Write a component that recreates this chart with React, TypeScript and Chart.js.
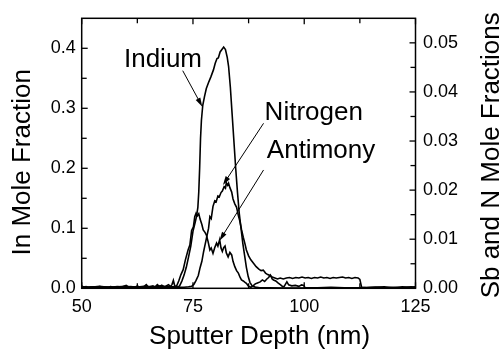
import React, { useEffect, useRef } from "react";
import { Chart, registerables } from "chart.js";

Chart.register(...registerables);

// ---------- data ----------
const indiumDepth = [
  50, 50.5, 51, 51.5, 52, 53, 53.5, 54, 55, 56, 56.5, 57, 58, 59, 60, 60.5, 61, 62, 62.5, 63, 64, 64.5, 65, 66, 66.5, 67,
  67.5, 68, 68.5, 69, 69.5, 70, 71, 71.5, 72, 72.5, 73, 73.5, 74, 74.5, 75, 75.5, 75.8, 76.1, 76.3, 76.5, 76.7, 76.9,
  77.2, 77.6, 78, 78.5, 79, 79.6, 80, 80.4, 80.7, 81.1, 81.5, 81.9, 82.3, 82.7, 83, 83.4, 83.8, 84.2, 84.6, 85, 85.4,
  85.8, 86.2, 86.6, 87, 87.4, 87.8, 88.3, 89, 90, 92, 95, 100, 105, 110, 115, 120, 125,
];
const indiumFrac = [
  0.004, 0.002, 0.003, 0.001, 0.002, 0.002, 0.001, 0.003, 0.002, 0.002, 0.003, 0.002, 0.003, 0.002, 0.005, 0.002, 0.003,
  0.002, 0.004, 0.002, 0.003, 0.006, 0.002, 0.004, 0.002, 0.006, 0.003, 0.005, 0.002, 0.004, 0.006, 0.003, 0.002, 0.002,
  0.004, 0.012, 0.022, 0.035, 0.052, 0.07, 0.095, 0.11, 0.12, 0.135, 0.16, 0.2, 0.25, 0.28, 0.305, 0.32, 0.333, 0.343,
  0.352, 0.364, 0.375, 0.383, 0.384, 0.394, 0.398, 0.402, 0.398, 0.385, 0.37, 0.335, 0.29, 0.245, 0.2, 0.16, 0.125, 0.1,
  0.075, 0.055, 0.035, 0.02, 0.01, 0.004, 0.002, 0.001, 0.001, 0.0005, 0.0005, 0.0003, 0.0003, 0.0003, 0.0003, 0.0003,
];

const nitrogenDepth = [
  50, 53, 57, 61, 65, 69, 72, 73, 74, 74.7, 75.2, 75.7, 76.2, 76.6, 77, 77.4, 77.7, 78.1, 78.5, 78.8, 79.1, 79.5, 79.9,
  80.2, 80.6, 80.9, 81.3, 81.6, 82, 82.3, 82.5, 82.8, 83, 83.3, 83.7, 84, 84.4, 84.8, 85.2, 85.5, 85.9, 86.3, 86.7, 87,
  87.5, 88, 88.6, 89.2, 89.8, 90.3, 90.8, 91.3, 91.8, 92.3, 92.8, 93.4, 94, 94.6, 95.3, 96, 96.7, 97.4, 98.1, 98.8, 99.5,
  100.2, 100.9, 101.6, 102.3, 103, 103.7, 104.4, 105.1, 105.8, 106.5, 107.2, 107.9, 108.6, 109.3, 110, 110.7, 111.4,
  112.1, 112.5, 112.9, 114, 116, 118, 120, 122, 124, 125,
];
const nitrogenFrac = [
  0.0002, 0.0003, 0.0002, 0.0003, 0.0002, 0.0003, 0.0002, 0.0002, 0.0003, 0.0004, 0.0008, 0.0016, 0.0026, 0.0042, 0.0055,
  0.0075, 0.0088, 0.0105, 0.0122, 0.0146, 0.0142, 0.0167, 0.0178, 0.0176, 0.0188, 0.0186, 0.0195, 0.0198, 0.0207, 0.0204,
  0.0215, 0.021, 0.0214, 0.0205, 0.0196, 0.0182, 0.0172, 0.0165, 0.0148, 0.0138, 0.012, 0.0104, 0.009, 0.0078, 0.0066,
  0.0058, 0.0051, 0.0044, 0.0039, 0.0036, 0.0037, 0.0031, 0.0028, 0.0026, 0.0023, 0.0021, 0.0019, 0.0021, 0.0019, 0.0021,
  0.0022, 0.002, 0.0022, 0.0021, 0.0023, 0.0021, 0.0022, 0.002, 0.0022, 0.0021, 0.0023, 0.0021, 0.0022, 0.002, 0.0022,
  0.0021, 0.0022, 0.0023, 0.0021, 0.0022, 0.002, 0.0022, 0.0021, 0.0018, 0.0002, 0.0001, 0.0002, 0.0001, 0.0002, 0.0001,
  0.0003, 0.0002,
];

const antimonyDepth = [
  50, 52, 54, 56, 58, 60, 62, 64, 66, 68, 69, 70, 70.3, 70.6, 70.9, 71.3, 71.8, 72.3, 72.8, 73.3, 73.9, 74.3, 74.7, 75.1,
  75.4, 75.7, 76, 76.3, 76.6, 77, 77.3, 77.7, 78, 78.4, 78.8, 79.1, 79.5, 79.9, 80.3, 80.6, 81, 81.3, 81.6, 81.9, 82.2,
  82.5, 82.9, 83.3, 83.7, 84, 84.4, 84.8, 85.2, 85.6, 85.9, 86.3, 86.7, 87, 87.5, 88, 88.5, 89, 89.5, 90.1, 90.6, 91.1,
  91.6, 92, 92.4, 92.8, 93.1, 93.6, 94.1, 94.7, 95.2, 95.5, 96.1, 96.5, 97.2, 98, 98.8, 99.4, 99.9, 100.2, 103, 106, 109,
  112, 115, 118, 120, 122, 124, 125,
];
const antimonyFrac = [
  0.0003, 0.0002, 0.0004, 0.0002, 0.0003, 0.0004, 0.0002, 0.0004, 0.0003, 0.0005, 0.0003, 0.0004, 0.0008, 0.0016, 0.0005,
  0.0004, 0.0015, 0.0028, 0.0038, 0.0058, 0.0078, 0.0088, 0.0118, 0.0125, 0.0146, 0.0153, 0.0148, 0.0152, 0.0141, 0.013,
  0.0119, 0.0114, 0.0109, 0.0095, 0.0078, 0.0082, 0.0071, 0.0083, 0.0092, 0.0086, 0.0099, 0.0082, 0.0075, 0.0083, 0.0086,
  0.0072, 0.0064, 0.0073, 0.0068, 0.0055, 0.0044, 0.0036, 0.0031, 0.0022, 0.0017, 0.0015, 0.0012, 0.001, 0.0004, 0.0002,
  0.0005, 0.0009, 0.0011, 0.0013, 0.0017, 0.0014, 0.0019, 0.0022, 0.0027, 0.0019, 0.0017, 0.0015, 0.0011, 0.0007, 0.0003,
  0.0004, 0.0013, 0.0007, 0.0005, 0.0006, 0.0004, 0.0007, 0.0006, 0.0001, 0.0001, 0.0002, 0.0001, 0.0001, 0.0002, 0.0003,
  0.0001, 0.0003, 0.0002, 0.0003,
];

// axis settings
const xTickValues = [50, 75, 100, 125];
const leftMax = 0.45;
const rightMax = 0.055;

// annotation labels (in depth / In-fraction units)
const labelTexts = ["Indium", "Nitrogen", "Antimony"];
const labelX = [59.5, 91.1, 91.6];
const labelY = [0.369, 0.2805, 0.2172];
const arrowFromX = [72.7, 90.86, 90.86];
const arrowFromY = [0.3627, 0.275, 0.1972];
const arrowToX = [77.1, 81.73, 80.96];
const arrowToY = [0.3027, 0.1722, 0.0793];

const xTitle = "Sputter Depth (nm)";
const yTitle = "In Mole Fraction";
const y2Title = "Sb and N Mole Fractions";

const FONT = '"Liberation Sans", Arial, Helvetica, sans-serif';

const toPoints = (xs: number[], ys: number[]) => xs.map((x, i) => ({ x, y: ys[i] }));

const decorPlugin = {
  id: "decor",
  afterDraw(chart: any) {
    const { ctx, chartArea: a, scales } = chart;
    const sx = scales.x;
    const sy = scales.y;
    const sy2 = scales.y2;
    ctx.save();
    ctx.strokeStyle = "#000";
    ctx.fillStyle = "#000";
    ctx.lineWidth = 1.3;
    const line = (x0: number, y0: number, x1: number, y1: number) => {
      ctx.beginPath();
      ctx.moveTo(x0, y0);
      ctx.lineTo(x1, y1);
      ctx.stroke();
    };
    const MAJ = 6;
    const MIN = 5;
    // x ticks (top and bottom, inward)
    const xt = sx.ticks.map((t: any) => t.value);
    xt.forEach((v: number, i: number) => {
      const px = sx.getPixelForValue(v);
      line(px, a.bottom, px, a.bottom - MAJ);
      line(px, a.top, px, a.top + MAJ);
      if (i < xt.length - 1) {
        const pm = sx.getPixelForValue((v + xt[i + 1]) / 2);
        line(pm, a.bottom, pm, a.bottom - MIN);
        line(pm, a.top, pm, a.top + MIN);
      }
    });
    // left y ticks
    const yt = sy.ticks.map((t: any) => t.value);
    yt.forEach((v: number, i: number) => {
      const py = sy.getPixelForValue(v);
      line(a.left, py, a.left + MAJ, py);
      const next = i < yt.length - 1 ? yt[i + 1] : v + (yt[1] - yt[0]);
      const mid = (v + next) / 2;
      if (mid < leftMax - 1e-9) {
        const pm = sy.getPixelForValue(mid);
        line(a.left, pm, a.left + MIN, pm);
      }
    });
    // right y ticks
    const y2t = sy2.ticks.map((t: any) => t.value);
    y2t.forEach((v: number, i: number) => {
      const py = sy2.getPixelForValue(v);
      line(a.right, py, a.right - MAJ, py);
      const next = i < y2t.length - 1 ? y2t[i + 1] : v + (y2t[1] - y2t[0]);
      const mid = (v + next) / 2;
      if (mid < rightMax - 1e-9) {
        const pm = sy2.getPixelForValue(mid);
        line(a.right, pm, a.right - MIN, pm);
      }
    });
    // frame
    ctx.lineWidth = 1.5;
    ctx.strokeRect(a.left, a.top, a.right - a.left, a.bottom - a.top);

    // annotations
    ctx.font = `26px ${FONT}`;
    ctx.textAlign = "left";
    ctx.textBaseline = "alphabetic";
    labelTexts.forEach((t, i) => {
      ctx.fillText(t, sx.getPixelForValue(labelX[i]), sy.getPixelForValue(labelY[i]));
      const x0 = sx.getPixelForValue(arrowFromX[i]);
      const y0 = sy.getPixelForValue(arrowFromY[i]);
      const x1 = sx.getPixelForValue(arrowToX[i]);
      const y1 = sy.getPixelForValue(arrowToY[i]);
      const ang = Math.atan2(y1 - y0, x1 - x0);
      const L = 9;
      const W = 2.6;
      ctx.lineWidth = 1;
      line(x0, y0, x1 - Math.cos(ang) * L * 0.8, y1 - Math.sin(ang) * L * 0.8);
      ctx.beginPath();
      ctx.moveTo(x1, y1);
      ctx.lineTo(x1 - Math.cos(ang) * L - Math.sin(ang) * W, y1 - Math.sin(ang) * L + Math.cos(ang) * W);
      ctx.lineTo(x1 - Math.cos(ang) * L + Math.sin(ang) * W, y1 - Math.sin(ang) * L - Math.cos(ang) * W);
      ctx.closePath();
      ctx.fill();
    });

    // axis titles
    ctx.font = `26px ${FONT}`;
    ctx.textAlign = "center";
    ctx.textBaseline = "alphabetic";
    ctx.fillText(xTitle, (a.left + a.right) / 2 + 11, 343.5);
    ctx.save();
    ctx.translate(30, (a.top + a.bottom) / 2 + 9);
    ctx.rotate(-Math.PI / 2);
    ctx.fillText(yTitle, 0, 0);
    ctx.restore();
    ctx.save();
    ctx.translate(498.5, (a.top + a.bottom) / 2 + 2);
    ctx.rotate(-Math.PI / 2);
    ctx.fillText(y2Title, 0, 0);
    ctx.restore();
    ctx.restore();
  },
};

export default function App() {
  const ref = useRef<HTMLCanvasElement | null>(null);
  useEffect(() => {
    if (!ref.current) return;
    const lineStyle = {
      borderColor: "#000",
      borderWidth: 1.6,
      pointRadius: 0,
      tension: 0,
      fill: false,
    };
    const tickFont = { family: FONT, size: 18 };
    const chart = new Chart(ref.current, {
      type: "line",
      data: {
        datasets: [
          { label: "Indium", data: toPoints(indiumDepth, indiumFrac), yAxisID: "y", ...lineStyle },
          { label: "Nitrogen", data: toPoints(nitrogenDepth, nitrogenFrac), yAxisID: "y2", ...lineStyle },
          { label: "Antimony", data: toPoints(antimonyDepth, antimonyFrac), yAxisID: "y2", ...lineStyle },
        ],
      },
      options: {
        responsive: false,
        animation: false,
        layout: { padding: { top: 18.3, left: 0, right: 0, bottom: 0 } },
        plugins: { legend: { display: false }, tooltip: { enabled: false } },
        scales: {
          x: {
            type: "linear",
            min: 50,
            max: 125,
            grid: { display: false, drawTicks: false },
            border: { display: false },
            afterBuildTicks: (s: any) => {
              s.ticks = xTickValues.map((v) => ({ value: v }));
            },
            ticks: { font: tickFont, color: "#000", padding: 8, maxRotation: 0, autoSkip: false },
            afterFit: (s: any) => {
              s.height = 60.7;
            },
          },
          y: {
            type: "linear",
            position: "left",
            min: 0,
            max: leftMax,
            grid: { display: false, drawTicks: false },
            border: { display: false },
            ticks: {
              stepSize: 0.1,
              includeBounds: false,
              font: tickFont,
              color: "#000",
              padding: 6,
              callback: (v: any) => Number(v).toFixed(1),
            },
            afterFit: (s: any) => {
              s.width = 81.7;
            },
          },
          y2: {
            type: "linear",
            position: "right",
            min: 0,
            max: rightMax,
            grid: { display: false, drawTicks: false },
            border: { display: false },
            ticks: {
              stepSize: 0.01,
              includeBounds: false,
              font: tickFont,
              color: "#000",
              padding: 7.5,
              callback: (v: any) => Number(v).toFixed(2),
            },
            afterFit: (s: any) => {
              s.width = 83.5;
            },
          },
        },
      } as any,
      plugins: [decorPlugin],
    });
    return () => chart.destroy();
  }, []);
  return (
    <div style={{ position: "fixed", left: 0, top: 0, width: 499, height: 349, background: "#fff" }}>
      <canvas ref={ref} width={499} height={349} style={{ display: "block" }} />
    </div>
  );
}
